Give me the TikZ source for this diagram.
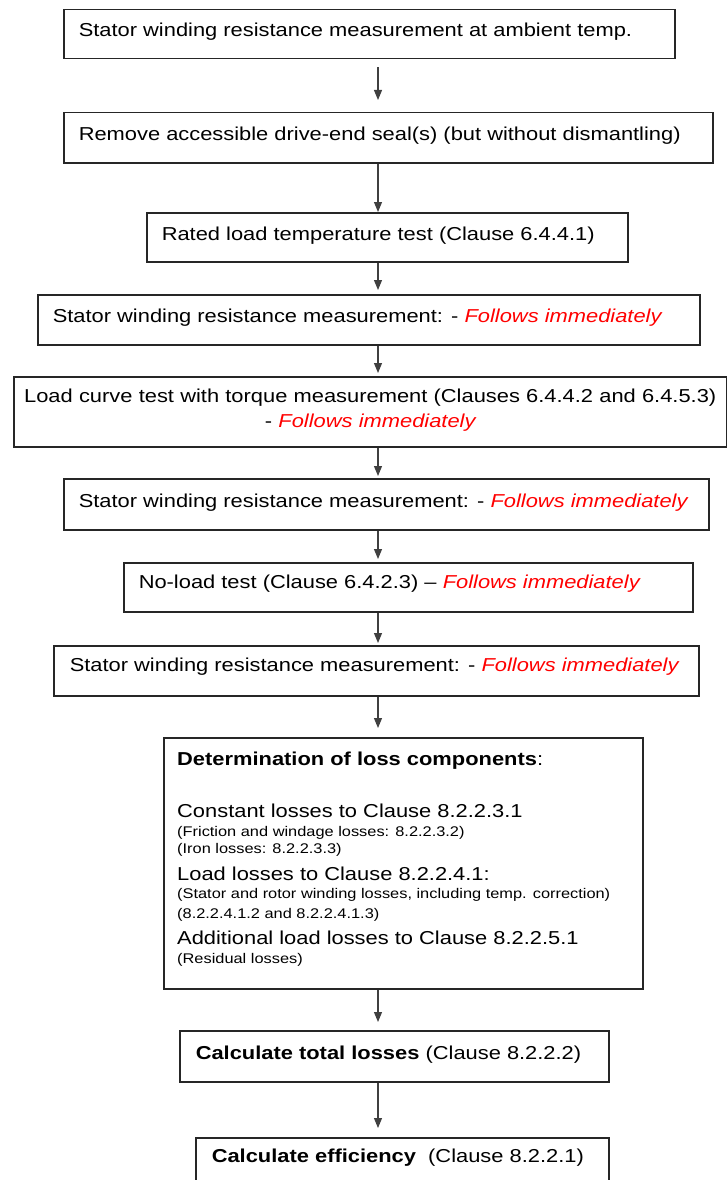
\documentclass[tikz,border=0pt]{standalone}
\usepackage{fontspec}
\setmainfont{Liberation Sans}[FakeStretch=1.17]
\usetikzlibrary{arrows.meta}
\definecolor{fred}{RGB}{255,0,0}
\newcommand\fol{\textcolor{fred}{\itshape Follows immediately}}
\newcommand\lft[2]{\makebox[#1][l]{#2}}
\tikzset{
  flowbox/.style n args={3}{draw=black!85, line width=1.5pt, anchor=north west,
    inner xsep=15pt, inner ysep=0pt, minimum width=#1, text height=#2, text depth=#3,
    font=\fontsize{18.7}{25}\selectfont},
  arr/.style={draw=black!75, line width=1.1pt, -{Triangle[length=10pt,width=8pt]}},
  bigline/.style={anchor=base west, inner sep=0pt, font=\fontsize{18.7}{25}\selectfont},
  smallline/.style={anchor=base west, inner sep=0pt, font=\fontsize{14}{18}\selectfont},
}
\begin{document}
\begin{tikzpicture}[x=1pt, y=-1pt]
\fill[white] (0,0) rectangle (727,1180);
\useasboundingbox (0,0) rectangle (727,1180);
\begin{scope}
\clip (0,0) rectangle (727,1180);
\node[flowbox={611pt}{27pt}{22pt}] (B1) at (63,9)
  {\lft{581pt}{Stator winding resistance measurement at ambient temp.}};
\node[flowbox={649pt}{28pt}{22pt}] (B2) at (63,112)
  {\lft{619pt}{Remove accessible drive-end seal(s) (but without dismantling)}};
\node[flowbox={481pt}{28pt}{21pt}] (B3) at (146,212)
  {\lft{451pt}{Rated load temperature test (Clause 6.4.4.1)}};
\node[flowbox={662pt}{28pt}{22pt}] (B4) at (37,294)
  {\lft{632pt}{Stator winding resistance measurement: - \fol}};
\node[flowbox={713pt}{26pt}{44pt}, inner xsep=4pt, text width=705pt, align=center] (B5) at (13,376)
  {Load curve test with torque measurement (Clauses 6.4.4.2 and 6.4.5.3)\\\mbox{-}\ \fol};
\node[flowbox={645pt}{29pt}{22pt}] (B6) at (63,478)
  {\lft{615pt}{Stator winding resistance measurement: - \fol}};
\node[flowbox={569pt}{26pt}{23pt}] (B7) at (123,562)
  {\lft{539pt}{No-load test (Clause 6.4.2.3) -- \fol}};
\node[flowbox={645pt}{26pt}{24pt}, inner xsep=16pt] (B8) at (53,645)
  {\lft{613pt}{Stator winding resistance measurement: - \fol}};
\node[draw=black!85, line width=1.5pt, anchor=north west, inner sep=0pt,
  minimum width=479pt, minimum height=251pt] (B9) at (163,737) {};
\node[bigline] (L1) at (177,765) {\textbf{Determination of loss components}:};
\node[bigline] (L2) at (177,817) {Constant losses to Clause 8.2.2.3.1};
\node[smallline] (L3) at (177,836) {(Friction and windage losses: 8.2.2.3.2)};
\node[smallline] (L4) at (177,853) {(Iron losses: 8.2.2.3.3)};
\node[bigline] (L5) at (177,880) {Load losses to Clause 8.2.2.4.1:};
\node[smallline] (L6) at (177,898) {(Stator and rotor winding losses, including temp. correction)};
\node[smallline] (L7) at (177,918) {(8.2.2.4.1.2 and 8.2.2.4.1.3)};
\node[bigline] (L8) at (177,944) {Additional load losses to Clause 8.2.2.5.1};
\node[smallline] (L9) at (177,963) {(Residual losses)};
\node[flowbox={429pt}{29pt}{22pt}, inner xsep=16pt] (B10) at (179,1030)
  {\lft{397pt}{\textbf{Calculate total losses} (Clause 8.2.2.2)}};
\node[flowbox={413pt}{25pt}{30pt}, inner xsep=16pt] (B11) at (195,1137)
  {\lft{381pt}{\textbf{Calculate efficiency}\ \ (Clause 8.2.2.1)}};
\coordinate (ax) at (378,0);
\draw[arr, shorten <=8pt, shorten >=12pt] (B1.south -| ax) -- (B2.north -| ax);
\draw[arr] (B2.south -| ax) -- (B3.north -| ax);
\draw[arr, shorten >=4pt] (B3.south -| ax) -- (B4.north -| ax);
\draw[arr, shorten >=3pt] (B4.south -| ax) -- (B5.north -| ax);
\draw[arr, shorten >=2pt] (B5.south -| ax) -- (B6.north -| ax);
\draw[arr, shorten >=3pt] (B6.south -| ax) -- (B7.north -| ax);
\draw[arr, shorten >=2pt] (B7.south -| ax) -- (B8.north -| ax);
\draw[arr, shorten >=9pt] (B8.south -| ax) -- (B9.north -| ax);
\draw[arr, shorten >=8pt] (B9.south -| ax) -- (B10.north -| ax);
\draw[arr, shorten >=9pt] (B10.south -| ax) -- (B11.north -| ax);
\end{scope}
\end{tikzpicture}
\end{document}
